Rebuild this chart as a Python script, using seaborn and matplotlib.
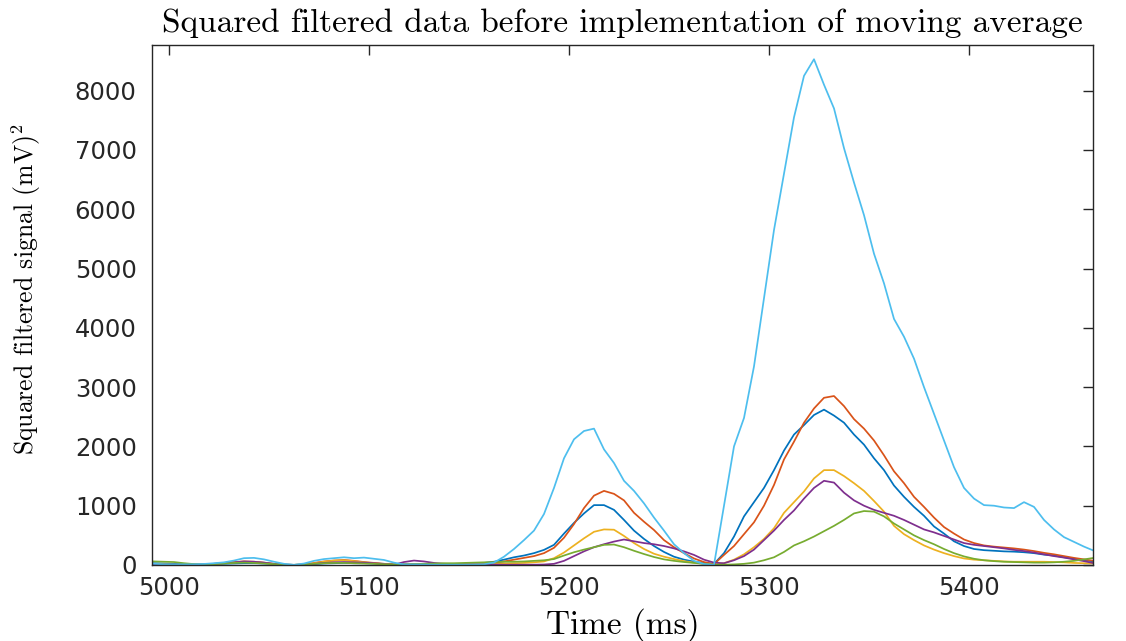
import matplotlib
matplotlib.use("Agg")
import matplotlib.pyplot as plt
import numpy as np
import pandas as pd
import seaborn as sns

# ---------------- data ----------------
time_ms = [
    4987.5, 4992.5, 4997.5, 5002.5, 5007.5, 5012.5, 5017.5, 5022.5, 5027.5, 5032.5,
    5037.5, 5042.5, 5047.5, 5052.5, 5057.5, 5062.5, 5067.5, 5072.5, 5077.5, 5082.5,
    5087.5, 5092.5, 5097.5, 5102.5, 5107.5, 5112.5, 5117.5, 5122.5, 5127.5, 5132.5,
    5137.5, 5142.5, 5147.5, 5152.5, 5157.5, 5162.5, 5167.5, 5172.5, 5177.5, 5182.5,
    5187.5, 5192.5, 5197.5, 5202.5, 5207.5, 5212.5, 5217.5, 5222.5, 5227.5, 5232.5,
    5237.5, 5242.5, 5247.5, 5252.5, 5257.5, 5262.5, 5267.5, 5272.5, 5277.5, 5282.5,
    5287.5, 5292.5, 5297.5, 5302.5, 5307.5, 5312.5, 5317.5, 5322.5, 5327.5, 5332.5,
    5337.5, 5342.5, 5347.5, 5352.5, 5357.5, 5362.5, 5367.5, 5372.5, 5377.5, 5382.5,
    5387.5, 5392.5, 5397.5, 5402.5, 5407.5, 5412.5, 5417.5, 5422.5, 5427.5, 5432.5,
    5437.5, 5442.5, 5447.5, 5452.5, 5457.5, 5462.5,
]

series_blue = [
    30, 30, 25, 20, 15, 10, 10, 15, 20, 25,
    30, 30, 25, 15, 5, 2, 5, 15, 25, 30,
    35, 30, 30, 25, 20, 10, 10, 15, 15, 10,
    10, 15, 20, 25, 35, 55, 90, 130, 160, 200,
    255, 340, 530, 710, 870, 1010, 1010, 930, 760, 580,
    440, 320, 220, 140, 90, 56, 35, 18, 200, 480,
    820, 1060, 1300, 1600, 1930, 2200, 2360, 2530, 2620, 2520,
    2400, 2200, 2030, 1800, 1600, 1340, 1150, 980, 830, 650,
    530, 400, 320, 270, 250, 240, 230, 225, 215, 200,
    175, 160, 130, 105, 80, 60,
]

series_orange = [
    10, 10, 8, 5, 5, 5, 10, 20, 35, 50,
    60, 55, 40, 20, 5, 2, 10, 35, 60, 75,
    85, 70, 50, 35, 20, 10, 5, 10, 10, 10,
    10, 10, 15, 20, 25, 35, 60, 90, 120, 150,
    200, 290, 460, 690, 960, 1170, 1250, 1200, 1090, 880,
    730, 590, 420, 300, 200, 110, 50, 15, 170, 320,
    520, 720, 1000, 1350, 1780, 2080, 2400, 2640, 2820, 2850,
    2680, 2460, 2300, 2100, 1850, 1580, 1380, 1150, 980, 800,
    640, 530, 430, 370, 330, 310, 295, 280, 260, 235,
    205, 180, 150, 120, 95, 70,
]

series_yellow = [
    15, 15, 10, 5, 5, 5, 8, 15, 30, 45,
    55, 50, 35, 15, 5, 2, 10, 30, 55, 75,
    80, 65, 45, 30, 15, 8, 5, 5, 5, 5,
    5, 8, 10, 12, 15, 20, 25, 30, 35, 45,
    60, 115, 210, 330, 450, 560, 600, 595, 490, 370,
    270, 190, 140, 100, 65, 40, 20, 5, 30, 90,
    180, 300, 440, 620, 880, 1060, 1240, 1460, 1600, 1600,
    1500, 1380, 1250, 1080, 900, 660, 520, 420, 330, 260,
    200, 150, 110, 90, 80, 70, 60, 55, 55, 55,
    55, 50, 45, 35, 30, 25,
]

series_purple = [
    5, 5, 5, 5, 5, 5, 10, 20, 30, 45,
    60, 55, 40, 20, 5, 2, 5, 20, 35, 45,
    50, 45, 40, 30, 15, 5, 50, 75, 60, 35,
    20, 15, 10, 10, 10, 8, 5, 5, 5, 5,
    8, 20, 70, 150, 230, 300, 350, 395, 430, 400,
    370, 350, 320, 280, 230, 170, 90, 40, 30, 80,
    150, 260, 420, 580, 760, 920, 1120, 1300, 1420, 1390,
    1220, 1090, 1000, 930, 880, 830, 760, 680, 600, 550,
    490, 430, 370, 340, 320, 300, 280, 255, 235, 210,
    180, 150, 125, 95, 65, 30,
]

series_green = [
    60, 60, 55, 50, 30, 15, 10, 15, 25, 35,
    40, 35, 25, 15, 5, 2, 8, 20, 30, 35,
    35, 30, 25, 20, 12, 8, 10, 15, 20, 25,
    30, 30, 35, 40, 45, 50, 55, 55, 60, 70,
    80, 100, 160, 215, 260, 300, 340, 345, 300, 240,
    185, 135, 95, 70, 50, 35, 20, 5, 5, 10,
    20, 40, 80, 130, 220, 330, 400, 480, 570, 660,
    760, 870, 910, 900, 820, 700, 600, 500, 420, 350,
    270, 200, 145, 105, 80, 65, 55, 50, 45, 40,
    40, 45, 55, 70, 95, 120,
]

series_cyan = [
    20, 20, 12, 10, 10, 12, 18, 30, 45, 75,
    115, 120, 95, 55, 20, 3, 25, 70, 100, 115,
    130, 115, 125, 105, 85, 40, 8, 10, 8, 5,
    5, 5, 5, 8, 12, 40, 140, 270, 420, 580,
    860, 1300, 1800, 2120, 2260, 2300, 1950, 1720, 1420, 1250,
    1040, 800, 580, 350, 200, 70, 15, 3, 1000, 2000,
    2480, 3350, 4500, 5650, 6600, 7550, 8250, 8530, 8100, 7700,
    7030, 6450, 5900, 5250, 4750, 4150, 3850, 3480, 3000, 2550,
    2100, 1650, 1300, 1120, 1010, 1000, 970, 960, 1060, 980,
    760, 600, 470, 390, 310, 240,
]

series_names = ["s1", "s2", "s3", "s4", "s5", "s6"]
series_values = [series_blue, series_orange, series_yellow,
                 series_purple, series_green, series_cyan]
colors = ["#0072BD", "#D95319", "#EDB120", "#7E2F8E", "#77AC30", "#4DBEEE"]

x_ticks = [5000, 5100, 5200, 5300, 5400]
y_ticks = [0, 1000, 2000, 3000, 4000, 5000, 6000, 7000, 8000]

title_text = "Squared filtered data before implementation of moving average"
xlabel_text = "Time (ms)"
ylabel_text = r"Squared filtered signal (mV)$^2$"

# ---------------- plotting ----------------
sns.set_theme(style="white")
plt.rcParams["font.family"] = ["DejaVu Sans"]
plt.rcParams["mathtext.fontset"] = "cm"
plt.rcParams["axes.unicode_minus"] = False

frames = []
for name, vals in zip(series_names, series_values):
    frames.append(pd.DataFrame({"time": time_ms, "value": vals, "series": name}))
df = pd.concat(frames, ignore_index=True)

fig = plt.figure(figsize=(11.26, 6.41), dpi=100)
ax = fig.add_axes([152 / 1126, 1 - 565 / 641, (1093 - 152) / 1126, (565 - 45) / 641])

sns.lineplot(data=df, x="time", y="value", hue="series", hue_order=series_names,
             palette=colors, linewidth=1.25, legend=False, ax=ax,
             estimator=None, sort=False)

ax.set_xlim(4991.5, 5462)
ax.set_ylim(0, 8770)
ax.set_xticks(x_ticks)
ax.set_yticks(y_ticks)
ax.set_xticklabels([str(v) for v in x_ticks])
ax.set_yticklabels([str(v) for v in y_ticks])

edge = "#262626"
for sp in ax.spines.values():
    sp.set_visible(True)
    sp.set_color(edge)
    sp.set_linewidth(1.0)

ax.tick_params(axis="both", which="major", direction="in", length=7, width=1,
               top=True, right=True, color=edge, labelcolor=edge, labelsize=17.5)
ax.tick_params(axis="x", pad=8)
ax.tick_params(axis="y", pad=11)

ax.set_xlabel("")
ax.set_ylabel("")
ax.set_title(title_text, fontfamily="cmr10", fontsize=24, color="black", pad=9)
ax.set_xlabel(xlabel_text, fontfamily="cmr10", fontsize=24, color="black")
ax.xaxis.set_label_coords(0.5, -0.082)
ax.set_ylabel(ylabel_text, fontfamily="cmr10", fontsize=18.5, color="black")
ax.yaxis.set_label_coords(-0.116, 0.53)

fig.savefig("out.png", dpi=100)
